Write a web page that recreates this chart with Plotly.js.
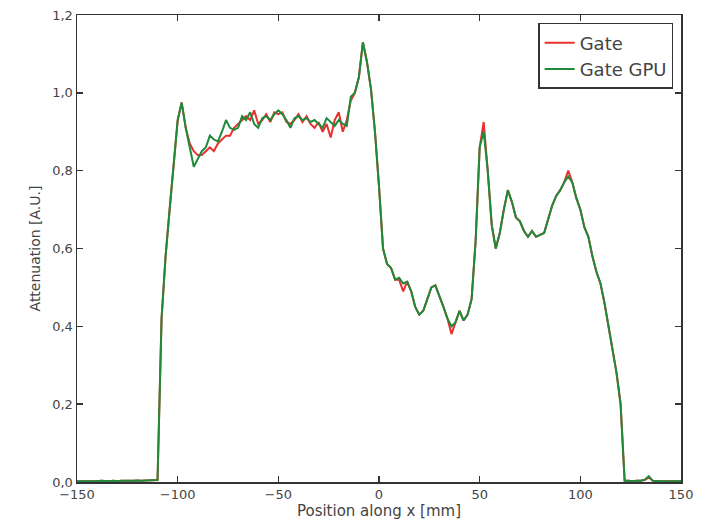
<!DOCTYPE html>
<html>
<head>
<meta charset="utf-8">
<script src="https://cdn.plot.ly/plotly-3.0.1.min.js"></script>
<style>html,body{margin:0;padding:0;background:#fff;}#chart{width:701px;height:526px;}</style>
</head>
<body>
<div id="chart"></div>
<script>
const positionMm = [
-150,-148,-146,-144,-142,-140,-138,-136,-134,-132,-130,-128,-126,-124,-122,-120,-118,-116,-114,-112,
-110,-108,-106,-104,-102,-100,-98,-96,-94,-92,-90,-88,-86,-84,-82,-80,-78,-76,-74,-72,
-70,-68,-66,-64,-62,-60,-58,-56,-54,-52,-50,-48,-46,-44,-42,-40,-38,-36,-34,-32,
-30,-28,-26,-24,-22,-20,-18,-16,-14,-12,-10,-8,-6,-4,-2,0,2,4,6,8,
10,12,14,16,18,20,22,24,26,28,30,32,34,36,38,40,42,44,46,48,
50,52,54,56,58,60,62,64,66,68,70,72,74,76,78,80,82,84,86,88,
90,92,94,96,98,100,102,104,106,108,110,112,114,116,118,120,122,124,126,128,
130,132,134,136,138,140,142,144,146,148,150];

const gateGPU = [
0.002,0.002,0.002,0.001,0.002,0.002,0.003,0.002,0.002,0.003,0.002,0.003,0.003,0.002,0.003,0.004,0.003,0.004,0.004,0.005,
0.005,0.42,0.58,0.70,0.82,0.93,0.975,0.91,0.86,0.81,0.83,0.85,0.86,0.89,0.88,0.875,0.90,0.93,0.91,0.905,
0.91,0.94,0.93,0.95,0.92,0.91,0.935,0.94,0.93,0.945,0.955,0.945,0.93,0.91,0.935,0.94,0.93,0.935,0.925,0.93,
0.92,0.91,0.935,0.925,0.915,0.93,0.92,0.915,0.99,1.00,1.04,1.13,1.08,1.01,0.90,0.76,0.60,0.56,0.55,0.52,
0.525,0.51,0.515,0.49,0.45,0.43,0.44,0.47,0.50,0.505,0.48,0.45,0.42,0.40,0.41,0.44,0.415,0.43,0.47,0.62,
0.86,0.90,0.80,0.66,0.60,0.64,0.70,0.75,0.72,0.68,0.67,0.645,0.63,0.645,0.63,0.635,0.64,0.675,0.71,0.735,
0.75,0.77,0.785,0.77,0.73,0.70,0.655,0.63,0.58,0.54,0.51,0.46,0.40,0.34,0.28,0.20,0.003,0.003,0.002,0.003,
0.003,0.006,0.015,0.003,0.002,0.002,0.002,0.002,0.002,0.002,0.002];

const gate = [
0.002,0.002,0.002,0.001,0.002,0.002,0.003,0.002,0.002,0.003,0.002,0.003,0.003,0.002,0.003,0.004,0.003,0.004,0.004,0.005,
0.005,0.42,0.58,0.70,0.82,0.93,0.975,0.91,0.87,0.85,0.84,0.84,0.85,0.86,0.85,0.87,0.88,0.89,0.89,0.91,
0.92,0.93,0.94,0.93,0.955,0.92,0.93,0.945,0.925,0.95,0.945,0.95,0.925,0.92,0.93,0.945,0.925,0.94,0.92,0.91,
0.925,0.90,0.92,0.885,0.93,0.95,0.90,0.93,0.98,1.00,1.04,1.13,1.08,1.01,0.90,0.76,0.60,0.56,0.55,0.52,
0.52,0.49,0.515,0.49,0.45,0.43,0.44,0.47,0.50,0.505,0.48,0.45,0.42,0.38,0.41,0.44,0.415,0.43,0.47,0.62,
0.86,0.925,0.80,0.66,0.60,0.64,0.70,0.75,0.72,0.68,0.67,0.645,0.63,0.645,0.63,0.635,0.64,0.675,0.71,0.735,
0.75,0.77,0.80,0.77,0.73,0.70,0.655,0.63,0.58,0.54,0.51,0.46,0.40,0.34,0.28,0.20,0.003,0.003,0.002,0.003,
0.003,0.005,0.012,0.003,0.002,0.002,0.002,0.002,0.002,0.002,0.002];

const xTickVals = [-150,-100,-50,0,50,100,150];
const xTickText = ['\u2212150','\u2212100','\u221250','0','50','100','150'];
const yTickVals = [0,0.2,0.4,0.6,0.8,1.0,1.2];
const yTickText = ['0,0','0,2','0,4','0,6','0,8','1,0','1,2'];

const font = 'DejaVu Sans, Arial, sans-serif';
const axisCommon = {
  showline: true, linecolor: '#333', linewidth: 1.5, mirror: 'ticks',
  ticks: 'inside', ticklen: 6, tickwidth: 1.5, tickcolor: '#333',
  showgrid: false, zeroline: false,
  tickfont: {family: font, size: 13, color: '#444'}
};

const data = [
  {x: positionMm, y: gate, type: 'scatter', mode: 'lines', name: 'Gate',
   line: {color: '#e8302e', width: 2}},
  {x: positionMm, y: gateGPU, type: 'scatter', mode: 'lines', name: 'Gate GPU',
   line: {color: '#1f8a3a', width: 2}}
];

const layout = {
  width: 701, height: 526,
  margin: {l: 77, r: 20, t: 15, b: 44},
  paper_bgcolor: '#fff', plot_bgcolor: '#fff',
  showlegend: true,
  legend: {x: 0.987, y: 0.983, xanchor: 'right', yanchor: 'top',
    bordercolor: '#333', borderwidth: 1.5, bgcolor: '#fff',
    font: {family: font, size: 18, color: '#444'}},
  xaxis: Object.assign({}, axisCommon, {
    range: [-150, 150], tickvals: xTickVals, ticktext: xTickText,
    title: {text: 'Position along x [mm]', font: {family: font, size: 15, color: '#444'}, standoff: 2}
  }),
  yaxis: Object.assign({}, axisCommon, {
    range: [0, 1.2], tickvals: yTickVals, ticktext: yTickText,
    title: {text: 'Attenuation [A.U.]', font: {family: font, size: 14, color: '#444'}, standoff: 8}
  })
};

Plotly.newPlot('chart', data, layout, {displayModeBar: false, staticPlot: true});
</script>
</body>
</html>
